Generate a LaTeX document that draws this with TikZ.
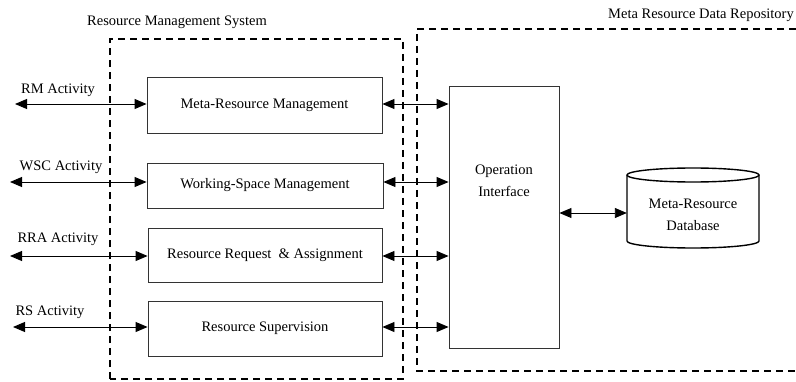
\documentclass[tikz,border=0pt]{standalone}
\usepackage{fontspec}
\setmainfont{Liberation Serif}
\usetikzlibrary{arrows.meta}
\begin{document}
\begin{tikzpicture}[x=1pt,y=1pt,
  txt/.style={font=\fontsize{14.5}{17.5}\selectfont, inner sep=0pt, align=center},
  blk/.style={draw=black!80, line width=0.9pt, minimum width=#1, inner sep=0pt},
  grp/.style={draw=black, line width=2pt, dash pattern=on 7pt off 5pt},
  link/.style={line width=0.9pt, {Triangle[length=12pt,width=10pt]}-{Triangle[length=12pt,width=10pt]}},
  link1/.style={line width=0.9pt, -{Triangle[length=12pt,width=10pt]}}]
\useasboundingbox (0,0) rectangle (796,381);
% group frames
\draw[grp] (110,2) rectangle (403,342);
\draw[grp] (820,352) -- (417,352) -- (417,10) -- (820,10);
\node[txt] (t1) at (177,359) {Resource Management System};
\node[txt, anchor=east] (t2) at (794,366) {Meta Resource Data Repository};
% blocks
\node[txt, blk=235pt, minimum height=56pt] (mrm) at (264.5,276) {Meta-Resource Management};
\node[txt, blk=236pt, minimum height=45pt] (wsm) at (265,195.5) {Working-Space Management};
\node[txt, blk=234pt, minimum height=54pt] (rra) at (265,126) {Resource Request\ \ \& Assignment};
\node[txt, blk=234pt, minimum height=55pt] (rs) at (265,52.5) {Resource Supervision};
\node[blk=110pt, minimum height=262pt] (oi) at (504,164) {};
\node[txt] (oit) at (504,200) {Operation\\[4pt]Interface};
% database cylinder
\node[minimum width=132pt, minimum height=80pt, inner sep=0pt] (db) at (693,173) {};
\draw[line width=1.4pt] (627,206) -- (627,140) arc[start angle=180, end angle=360, x radius=66, y radius=7] -- (759,206);
\draw[line width=1.4pt] (693,206) ellipse[x radius=66, y radius=7];
\node[txt] (dbt) at (693,166) {Meta-Resource\\[4pt]Database};
% activity labels
\node[txt] (l1) at (58,291) {RM Activity};
\node[txt] (l2) at (61,214) {WSC Activity};
\node[txt] (l3) at (58,142) {RRA Activity};
\node[txt] (l4) at (50,69) {RS Activity};
% free ends
\coordinate (a1) at (15,277);
\coordinate (a2) at (10,199);
\coordinate (a3) at (10,125);
\coordinate (a4) at (13,54);
% connectors
\draw[link] (a1) -- (mrm.west |- a1);
\draw[link] (a2) -- (wsm.west |- a2);
\draw[link] (a3) -- (rra.west |- a3);
\draw[link] (a4) -- (rs.west |- a4);
\draw[link] (mrm.east |- a1) -- (oi.west |- a1);
\draw[link] (wsm.east |- a2) -- (oi.west |- a2);
\draw[link] (rra.east |- a3) -- (oi.west |- a3);
\draw[link] (rs.east |- a4) -- (oi.west |- a4);
\draw[link] (oi.east |- 0,168) -- (db.west |- 0,168);
\end{tikzpicture}
\end{document}
